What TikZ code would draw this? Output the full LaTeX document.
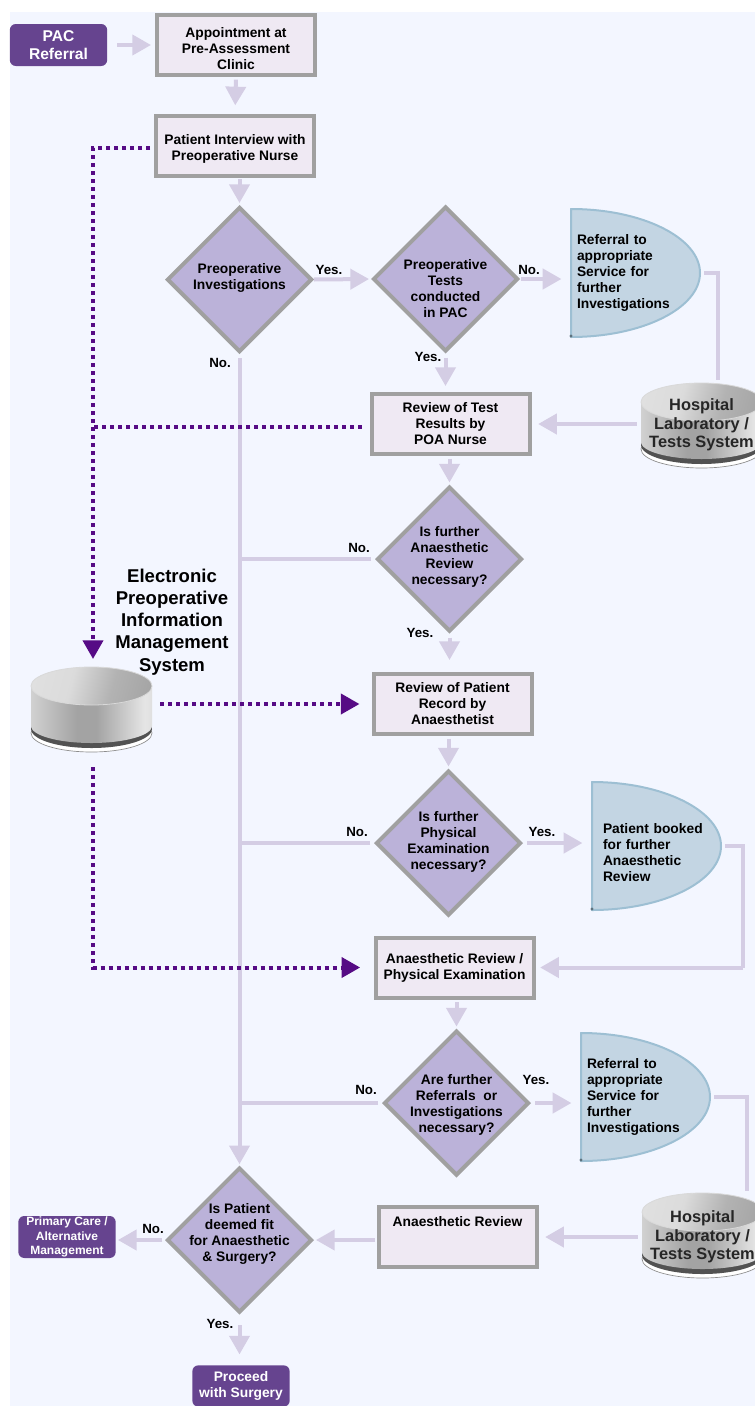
\documentclass[tikz,border=0pt]{standalone}
\usepackage{fontspec}
\setmainfont{Liberation Sans}
\usetikzlibrary{arrows.meta,shapes.geometric,calc}
\definecolor{bgc}{HTML}{F3F6FF}
\definecolor{boxf}{HTML}{EFE9F3}
\definecolor{edgec}{HTML}{A0A0A0}
\definecolor{diaf}{HTML}{BBB2D9}
\definecolor{halff}{HTML}{C3D5E3}
\definecolor{halfe}{HTML}{9DBFD3}
\definecolor{conn}{HTML}{D4CDE4}
\definecolor{purp}{HTML}{66448F}
\definecolor{dotc}{HTML}{560B85}
\pgfdeclarehorizontalshading{cylbody}{100bp}{color(0bp)=(black!18); color(25bp)=(black!18); color(44bp)=(black!36); color(52bp)=(black!36); color(72bp)=(black!10); color(100bp)=(black!32)}
\pgfdeclarehorizontalshading{cyltop}{100bp}{color(0bp)=(black!10); color(40bp)=(black!14); color(60bp)=(black!30); color(100bp)=(black!42)}
\newcommand\fb{\fontsize{10.35}{12}\selectfont\bfseries}
\newcommand\dtx[2]{\raisebox{#1}[0pt][0pt]{\makebox[0pt]{\begin{tabular}{@{}c@{}}#2\end{tabular}}}}
\newcommand\halfshape[2]{\begin{scope}[shift={(#1,#2)}]
  \draw[fill=halff,draw=halfe,line width=1.5pt,line join=round] (0,0) .. controls (71,0) and (129,28.7) .. (129,64) .. controls (129,99.3) and (71,128) .. (0,128) -- cycle;
  \fill[halfe!60!black] (0,127) circle[radius=1.6];
\end{scope}}
\newcommand\cylshape[2]{\begin{scope}[shift={(#1,#2)}]
  \draw[fill=white,draw=black!45,line width=.5pt] (60.5,66) ellipse[x radius=60.5,y radius=19];
  \fill[black!68] (60.5,62) ellipse[x radius=60.5,y radius=19];
  \path[shading=cylbody] (0,19) -- (0,59) arc[start angle=180,end angle=0,x radius=60.5,y radius=17] -- (121,19) -- cycle;
  \path[shading=cyltop,shading angle=-15,draw=white!85!black,line width=.6pt] (60.5,19) ellipse[x radius=60.5,y radius=19];
\end{scope}}
\tikzset{
  flowbox/.style={draw=edgec,fill=boxf,line width=3pt,minimum width=118.5pt,minimum height=45pt,inner sep=0pt,font=\fb,align=center,text=black},
  dia/.style={diamond,shape aspect=1,draw=edgec,fill=diaf,line width=3pt,minimum width=108.75pt,minimum height=108.75pt,inner sep=0pt,font=\fb,text=black},
  halfn/.style={minimum height=96pt,inner xsep=4.5pt,inner ysep=0pt,text width=87.75pt,align=left,font=\fb,text=black},
  cyln/.style={minimum width=90.75pt,minimum height=63pt,inner sep=0pt,align=center,font=\fontsize{12.3}{14}\selectfont\bfseries,text=black!85},
  term/.style={fill=purp,rounded corners=4.5pt,minimum width=73pt,inner sep=0pt,align=center,text=white,font=\bfseries},
  lab/.style={font=\fontsize{10}{12}\selectfont\bfseries,text=black,inner sep=0pt},
  flow/.style={draw=conn,line width=3pt,-{Triangle[length=14pt,width=15pt]}},
  plain/.style={draw=conn,line width=3pt},
  dotl/.style={draw=dotc,line width=3pt,dash pattern=on 3pt off 3pt},
  doth/.style={dotl,-{Triangle[length=14pt,width=15pt]}},
}
\begin{document}
\begin{tikzpicture}[x=0.75pt,y=-0.75pt]
\useasboundingbox (0,0) rectangle (755,1406);
\clip (0,0) rectangle (755,1406);
\fill[bgc] (10,12) rectangle (755,1406);

% shapes drawn directly
\halfshape{571}{209}
\halfshape{592}{782}
\halfshape{581}{1033}
\cylshape{31}{667}
\cylshape{641}{383}
\cylshape{642}{1193}

% nodes
\node[term,minimum height=31.5pt,font=\fontsize{11.7}{13.5}\selectfont\bfseries] (pac) at (58.5,45) {PAC\\Referral};
\node[flowbox] (b1) at (236,45) {\rule{0pt}{13.5pt}Appointment at\\Pre-Assessment\\Clinic};
\node[flowbox] (b2) at (235,146) {\rule{0pt}{12pt}Patient Interview with\\Preoperative Nurse};
\node[dia] (d1) at (239.5,279.5) {\dtx{-1.75pt}{Preoperative\\Investigations}};
\node[dia] (d2) at (445.5,279) {\dtx{-11pt}{Preoperative\\Tests\\conducted\\in PAC}};
\node[halfn] (h1) at (635.5,273) {Referral to\\appropriate\\Service for\\further\\Investigations};
\node[cyln] (c1) at (701.5,425) {Hospital\\Laboratory /\\Tests System};
\node[flowbox] (b3) at (450.5,424) {Review of Test\\Results by\\POA Nurse};
\node[dia] (d3) at (449.5,559) {\dtx{-1.4pt}{Is further\\Anaesthetic\\Review\\necessary?}};
\node[flowbox] (b4) at (452.5,704) {Review of Patient\\Record by\\Anaesthetist};
\node[dia] (d4) at (448.5,843) {\dtx{-2.25pt}{Is further\\Physical\\Examination\\necessary?}};
\node[halfn,inner xsep=8.25pt,text width=80.25pt] (h2) at (656.5,846) {\rule{0pt}{17.5pt}Patient booked\\for further\\Anaesthetic\\Review};
\node[flowbox] (b5) at (454.5,967.5) {Anaesthetic Review /\\Physical Examination};
\node[dia] (d5) at (456.5,1103) {\dtx{-4.5pt}{Are further\\Referrals\ \ or\\Investigations\\necessary?}};
\node[halfn] (h3) at (645.5,1097) {Referral to\\appropriate\\Service for\\further\\Investigations};
\node[cyln] (c2) at (702.5,1237) {Hospital\\Laboratory /\\Tests System};
\node[flowbox] (b6) at (457.5,1237) {Anaesthetic Review\\[12pt]\mbox{}};
\node[dia] (d6) at (239.5,1240) {\dtx{1.5pt}{Is Patient\\deemed fit\\for Anaesthetic\\\& Surgery?}};
\node[term,minimum height=31.5pt,font=\fontsize{9}{10.9}\selectfont\bfseries] (pc) at (67,1237) {Primary Care /\\Alternative\\Management};
\node[term,minimum height=31pt,font=\fb] (pro) at (241,1386) {Proceed\\with Surgery};
\node[minimum size=0pt,inner sep=0pt,align=center,font=\fontsize{13.9}{16.6}\selectfont\bfseries] (title) at (172,622) {Electronic\\Preoperative\\Information\\Management\\System};
\node[minimum width=90.75pt,minimum height=63pt,inner sep=0pt] (dbm) at (91.5,709) {};

% labels
\node[lab] (l1) at (329,270) {Yes.};
\node[lab] (l2) at (220,363) {No.};
\node[lab] (l3) at (529,270) {No.};
\node[lab] (l4) at (428,357) {Yes.};
\node[lab] (l5) at (359,548) {No.};
\node[lab] (l6) at (420,633) {Yes.};
\node[lab] (l7) at (357,832) {No.};
\node[lab] (l8) at (542,832) {Yes.};
\node[lab] (l9) at (366,1090) {No.};
\node[lab] (l10) at (536,1080) {Yes.};
\node[lab] (l11) at (153,1229) {No.};
\node[lab] (l12) at (220,1324) {Yes.};

% free ends
\coordinate (r1) at (718,380);
\coordinate (r2) at (743,967.5);
\coordinate (r3) at (747,1191);
\coordinate (bus) at (93,659);
\coordinate (bus2) at (93,767);
\coordinate (b2d) at ($(b2.west)+(0,2)$);
\coordinate (b3d) at ($(b3.west)+(0,3)$);

% light connectors
\draw[flow,shorten <=7.5pt,shorten >=3pt] (pac) -- (b1);
\draw[flow,shorten <=2pt,shorten >=6.5pt] (b1.south) -- (b2.north);
\draw[flow,shorten <=1pt,shorten >=1.5pt] (b2.south -| d1.north) -- (d1.north);
\draw[flow,shorten >=1.5pt] (d1.east) -- (d2.west);
\draw[flow,shorten <=1pt,shorten >=7pt] (d2.east) -- (d2.east -| h1.west);
\draw[flow,shorten <=3pt,shorten >=4.5pt] (d2.south) -- (d2.south |- b3.north);
\draw[plain,shorten <=3pt] (h1.east) -| (r1);
\draw[flow,shorten <=3pt,shorten >=5pt] (c1.west |- b3.east) -- (b3.east);
\draw[flow,shorten <=2pt,shorten >=1.5pt] (b3.south -| d3.north) -- (d3.north);
\draw[flow,shorten <=3pt,shorten >=9pt] (d3.south) -- (d3.south |- b4.north);
\draw[flow,shorten <=2pt,shorten >=1.5pt] (b4.south -| d4.north) -- (d4.north);
\draw[flow,shorten <=3pt,shorten >=7pt] (d4.east) -- (d4.east -| h2.west);
\draw[plain,shorten <=3pt] (h2.east) -| (r2);
\draw[flow,shorten >=3.5pt] (r2) -- (b5.east);
\draw[flow,shorten <=2pt,shorten >=1.5pt] (b5.south -| d5.north) -- (d5.north);
\draw[flow,shorten <=3pt,shorten >=7pt] (d5.east) -- (d5.east -| h3.west);
\draw[plain,shorten <=3pt] (h3.east) -| (r3);
\draw[flow,shorten <=3pt,shorten >=5pt] (c2.west |- b6.east) -- (b6.east);
\draw[flow,shorten <=1pt,shorten >=1.5pt] (b6.west |- d6.east) -- (d6.east);
\draw[flow,shorten <=2pt,shorten >=1.5pt] (d6.west) -- (pc.east |- d6.west);
\draw[flow,shorten <=8pt,shorten >=8pt] (d6.south) -- (d6.south |- pro.north);
\draw[flow,shorten <=3pt,shorten >=1pt] (d1.south) -- (d1.south |- d6.north);
\draw[plain,shorten <=3pt] (d3.west) -- (d3.west -| d1.south);
\draw[plain,shorten <=3pt] (d4.west) -- (d4.west -| d1.south);
\draw[plain,shorten <=3pt] (d5.west) -- (d5.west -| d1.south);

% dotted data links
\draw[doth,shorten <=3pt] (b2d) -| (bus);
\draw[dotl,shorten <=6pt] (b3d) -- (b3d -| bus);
\draw[doth,shorten <=6pt,shorten >=9pt] (dbm.east |- b4.west) -- (b4.west);
\draw[doth,shorten >=10pt] (bus2) |- (b5.west);
\end{tikzpicture}
\end{document}
